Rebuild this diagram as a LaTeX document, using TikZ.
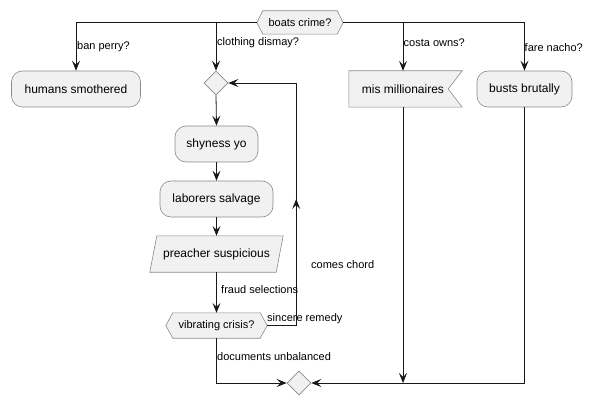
\documentclass[tikz,border=0pt]{standalone}
\usepackage{fontspec}
\setmainfont{Liberation Sans}
\usetikzlibrary{arrows.meta,shapes.geometric,calc}
\definecolor{nodefill}{HTML}{F1F1F1}
\definecolor{edgecol}{HTML}{181818}
\definecolor{bordercol}{HTML}{8A8A8A}
\tikzset{
  act/.style={draw=bordercol, fill=nodefill, rounded corners=11pt, line width=0.6pt,
    font=\fontsize{12}{14}\selectfont, inner sep=0pt, minimum height=36pt},
  bare/.style={inner sep=0pt, minimum height=36pt, font=\fontsize{12}{14}\selectfont},
  hexa/.style={inner sep=0pt, font=\fontsize{11}{13}\selectfont},
  outline/.style={draw=bordercol, fill=nodefill, line width=0.6pt},
  merge/.style={diamond, draw=bordercol, fill=nodefill, minimum width=24pt,
    minimum height=24pt, inner sep=0pt, line width=0.6pt},
  flow/.style={draw=edgecol, line width=0.8pt},
  tip/.style={-{Stealth[length=10pt,width=8pt,inset=4pt]}},
  lbl/.style={font=\fontsize{11}{13}\selectfont, inner sep=0pt, anchor=west},
}
\begin{document}
\begin{tikzpicture}[x=1pt,y=-1pt]
\useasboundingbox (0,0) rectangle (594,406);

% top decision
\node[hexa, minimum width=74pt, minimum height=23pt] (top) at (300,22.5) {};
\draw[outline] ($(top.west)+(-6,0)$) -- (top.north west) -- (top.north east)
  -- ($(top.east)+(6,0)$) -- (top.south east) -- (top.south west) -- cycle;
\node[hexa] at (top) {boats crime?};
\coordinate (hL) at ($(top.west)+(-6,0)$);
\coordinate (hR) at ($(top.east)+(6,0)$);

% branch nodes
\node[act, minimum width=129pt] (hum) at (76,89) {humans smothered};
\node[merge] (d1) at (216,83) {};
\node[bare, minimum width=108pt] (mis) at (403,89) {};
\draw[outline] (mis.north west) -- ($(mis.north east)+(5,0)$) -- ($(mis.east)+(-9,0)$)
  -- ($(mis.south east)+(5,0)$) -- (mis.south west) -- cycle;
\node[bare] at (mis) {mis millionaires};
\node[act, minimum width=95pt] (busts) at (524.5,89) {busts brutally};

% loop body
\node[act, minimum width=83pt] (shy) at (216.5,144) {shyness yo};
\node[act, minimum width=113pt] (lab) at (216.5,199) {laborers salvage};
\node[bare, minimum width=126pt] (pre) at (216.5,254) {};
\draw[outline] ($(pre.north west)+(3.5,0)$) -- ($(pre.north east)+(3.5,0)$)
  -- ($(pre.south east)+(-3.5,0)$) -- ($(pre.south west)+(-3.5,0)$) -- cycle;
\node[bare] at (pre) {preacher suspicious};

\node[hexa, minimum width=87pt, minimum height=25pt] (vib) at (216.5,325.5) {};
\draw[outline] ($(vib.west)+(-7,0)$) -- (vib.north west) -- (vib.north east)
  -- ($(vib.east)+(7,0)$) -- (vib.south east) -- (vib.south west) -- cycle;
\node[hexa] at (vib) {vibrating crisis?};
\coordinate (vR) at ($(vib.east)+(7,0)$);

\node[merge] (d2) at (299,383) {};

% connectors from top decision
\draw[flow,tip] (hL) -| (hum.north);
\draw[flow,tip] (hL) -| (d1.north);
\draw[flow,tip] (hR) -| (mis.north);
\draw[flow,tip] (hR) -| (busts.north);

% loop chain
\draw[flow,tip] (d1.south) -- (shy.north);
\draw[flow,tip] (shy.south) -- (lab.north);
\draw[flow,tip] (lab.south) -- (pre.north);
\draw[flow,tip] (pre.south) -- (vib.north);

% back loop
\coordinate (lb) at ($(vR)+(29,0)$);
\draw[flow,tip] (vR) -- (lb) |- (d1.east);
\draw[flow,tip] (lb) -- (lb |- lab);

% to final merge
\draw[flow,tip] (vib.south) |- (d2.west);
\draw[flow,tip] (mis.south) -- (mis.south |- d2);
\draw[flow,tip] (busts.south) |- (d2.east);

% labels
\node[lbl] at (77,46.5) {ban perry?};
\node[lbl] at (217,42.5) {clothing dismay?};
\node[lbl] at (403.5,43) {costa owns?};
\node[lbl] at (524.5,47.5) {fare nacho?};
\node[lbl] at (221,290) {fraud selections};
\node[lbl] at (267,319) {sincere remedy};
\node[lbl] at (311,265) {comes chord};
\node[lbl] at (217,357) {documents unbalanced};
\end{tikzpicture}
\end{document}
